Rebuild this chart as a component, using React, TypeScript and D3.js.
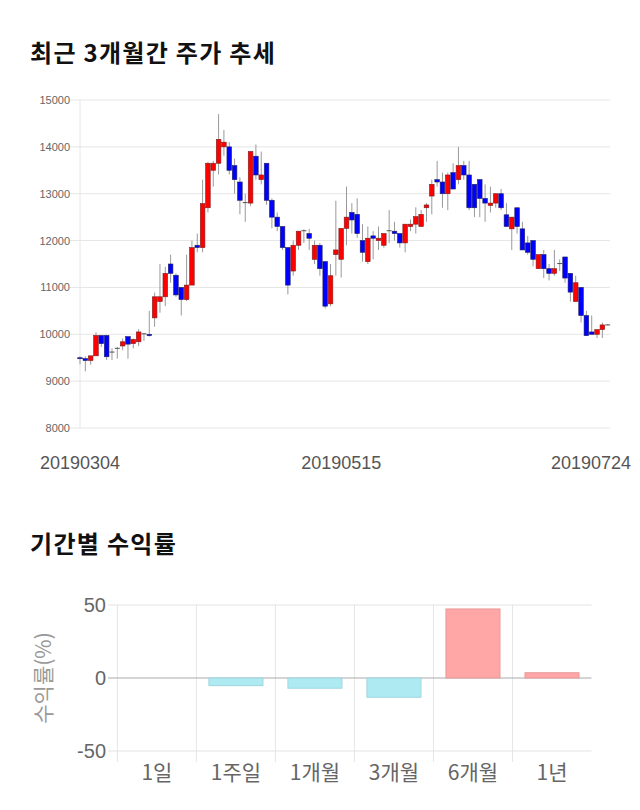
import React from "react";
import * as d3 from "d3";

const opens = [9500,9480,9440,9540,9975,9975,9620,9690,9750,9950,9800,9840,10000,10000,10350,10700,10800,11500,11260,11000,10740,11050,11900,11850,12700,13500,13650,14000,14000,13600,13250,12800,12800,13800,13300,13650,12860,12500,12300,11850,11350,11900,12200,12150,11600,11900,11550,10650,11700,11600,12260,12600,12560,12000,11550,12100,12000,11900,12200,12200,12150,11950,12300,12350,12300,12700,12950,13300,13250,13000,13450,13300,13600,13400,13200,13300,12900,12750,12800,13000,12550,12250,12700,12250,11950,12000,11400,11700,11400,11300,11500,11650,11300,10700,11000,10400,10050,10000,10100,10200];
const highs = [9530,9530,9540,10040,9975,9990,9700,9730,9910,9950,9910,10110,10030,10500,10890,11500,11440,11700,11300,11000,11700,12000,12150,13300,13680,13700,14700,14360,14100,13750,13350,13000,13900,14050,13900,13650,12900,12600,12300,11850,12000,12200,12240,12250,12000,11950,11550,11500,12850,12260,13150,12800,12900,12350,12300,12200,12300,12150,12650,12400,12150,12350,12450,12710,12650,12800,13300,13700,13450,13450,13650,14000,13700,13700,13200,13300,13200,13150,13000,13100,12800,12500,12700,12400,12100,12000,11700,11800,11500,11800,11600,11650,11300,11250,11000,10500,10400,10100,10250,10210];
const lows = [9360,9210,9350,9540,9730,9450,9450,9480,9660,9480,9700,9750,9860,9950,10160,10460,10600,11100,10800,10400,10710,11050,11750,11750,12600,13150,13410,13810,13410,13000,12560,12400,12740,13300,13200,12760,12260,12200,11800,10850,11250,11800,11950,11800,11500,11250,10550,10600,11250,11210,11900,12150,12060,11550,11500,11600,11800,11850,11950,12000,11850,11750,12200,12150,12300,12400,12560,13150,12700,12650,13100,13200,13300,12650,12500,12500,12400,12600,12700,12650,12300,11800,12150,11800,11700,11450,11400,11200,11150,11250,11350,11100,10700,10700,10250,9970,10000,9920,9920,10190];
const closes = [9480,9440,9540,9975,9800,9520,9610,9700,9840,9790,9890,10050,10010,9970,10800,10800,11300,11300,10840,10740,11050,11850,11850,12790,13650,13650,14160,14100,13500,13300,12860,12810,13900,13400,13400,12860,12500,12300,11850,11050,11900,12200,12210,12050,11900,11400,10600,11250,11800,12260,12500,12440,12150,11750,12050,12050,12050,12150,12210,12150,11950,12350,12350,12510,12560,12760,13200,13250,13000,13400,13100,13600,13400,12700,12700,12900,12800,12800,13000,12700,12300,12500,12300,11800,11750,11600,11700,11400,11300,11400,11510,11200,10900,11100,10400,9970,10000,10100,10200,10200];

const priceTicks = [8000, 9000, 10000, 11000, 12000, 13000, 14000, 15000];
const dateLabels = ["20190304", "20190515", "20190724"];
const dateLabelIdx = [0, 49, 99];

const periods = ["1일", "1주일", "1개월", "3개월", "6개월", "1년"];
const returns = [0, -5.2, -7.0, -13.2, 47.3, 3.6];
const returnTicks = [-50, 0, 50];

const FONT = "'Liberation Sans', 'Noto Sans CJK KR', Arial, sans-serif";
const KFONT = "'Noto Sans CJK KR', 'Liberation Sans', sans-serif";

export default function App() {
  const x = d3.scaleLinear().domain([0, opens.length - 1]).range([80, 607.7]);
  const y = d3.scaleLinear().domain([8000, 15000]).range([428, 100]);

  const bx = d3.scaleBand<string>().domain(periods).range([117.4, 591.5]).paddingInner(0.316).paddingOuter(0.158);
  const by = d3.scaleLinear().domain([-50, 50]).range([751, 605]);
  const step = bx.step();

  return (
    <div style={{ position: "absolute", left: 0, top: 0 }}>
      <svg width={640} height={810} style={{ display: "block" }}>
        <rect width={640} height={810} fill="#fff" />
        <text x={30} y={62} fontFamily={KFONT} fontWeight="bold" fontSize={24} letterSpacing={1.3} fill="#111">최근 3개월간 주가 추세</text>

        {priceTicks.map((t) => (
          <g key={t}>
            <line x1={70} x2={610} y1={y(t)} y2={y(t)} stroke="#e6e6e6" />
            <text x={70} y={y(t) + 4} textAnchor="end" fontFamily={FONT} fontSize={11} fill="#666">{t}</text>
          </g>
        ))}
        <line x1={80} x2={80} y1={100} y2={428} stroke="#e6e6e6" />

        {opens.map((o, i) => {
          const c = closes[i];
          const up = c >= o;
          const cx = x(i);
          const top = y(Math.max(o, c));
          const bot = y(Math.min(o, c));
          const h = Math.max(bot - top, 1);
          const doji = Math.abs(c - o) < 20;
          return (
            <g key={i}>
              <line x1={cx} x2={cx} y1={y(highs[i])} y2={y(lows[i])} stroke="#999" strokeWidth={1} />
              {doji ? (
                <line x1={cx - 2.5} x2={cx + 2.5} y1={top} y2={top} stroke="#555" strokeWidth={1} />
              ) : (
                <rect x={cx - 2.3} y={top} width={4.6} height={h} fill={up ? "#ff0000" : "#0000ff"} stroke={up ? "#7a2020" : "#202060"} strokeWidth={0.6} />
              )}
            </g>
          );
        })}

        {dateLabels.map((d, i) => {
          const last = i === dateLabels.length - 1;
          return (
            <text key={d} x={last ? 631 : x(dateLabelIdx[i])} y={469} textAnchor={last ? "end" : "middle"} fontFamily={FONT} fontSize={18} fill="#555">{d}</text>
          );
        })}

        <text x={30} y={553} fontFamily={KFONT} fontWeight="bold" fontSize={24} letterSpacing={1.3} fill="#111">기간별 수익률</text>

        {periods.map((p) => (
          <line key={p} x1={(bx(p) as number) - step * 0.158} x2={(bx(p) as number) - step * 0.158} y1={605} y2={762} stroke="#e6e6e6" />
        ))}
        {returnTicks.map((t) => (
          <g key={t}>
            <line x1={108} x2={591.5} y1={by(t)} y2={by(t)} stroke={t === 0 ? "#aaa" : "#e3e3e3"} />
            <text x={106} y={by(t) + 7} textAnchor="end" fontFamily={FONT} fontSize={20} fill="#666">{t}</text>
          </g>
        ))}
        {returns.map((v, i) => {
          if (v === 0) return null;
          const p = periods[i];
          const y0 = by(Math.max(v, 0));
          const y1 = by(Math.min(v, 0));
          return (
            <rect key={p} x={bx(p)} y={y0} width={bx.bandwidth()} height={y1 - y0}
              fill={v > 0 ? "#ffa6a6" : "#aeeaf2"} stroke={v > 0 ? "#e89a9a" : "#9fd6df"} strokeWidth={1} />
          );
        })}
        {periods.map((p) => (
          <text key={p} x={(bx(p) as number) + bx.bandwidth() / 2} y={780} textAnchor="middle" fontFamily={KFONT} fontSize={21} fill="#666">{p}</text>
        ))}
        <text transform="translate(51,678) rotate(-90)" textAnchor="middle" fontFamily={KFONT} fontSize={21} fill="#999">수익률(%)</text>
      </svg>
    </div>
  );
}
